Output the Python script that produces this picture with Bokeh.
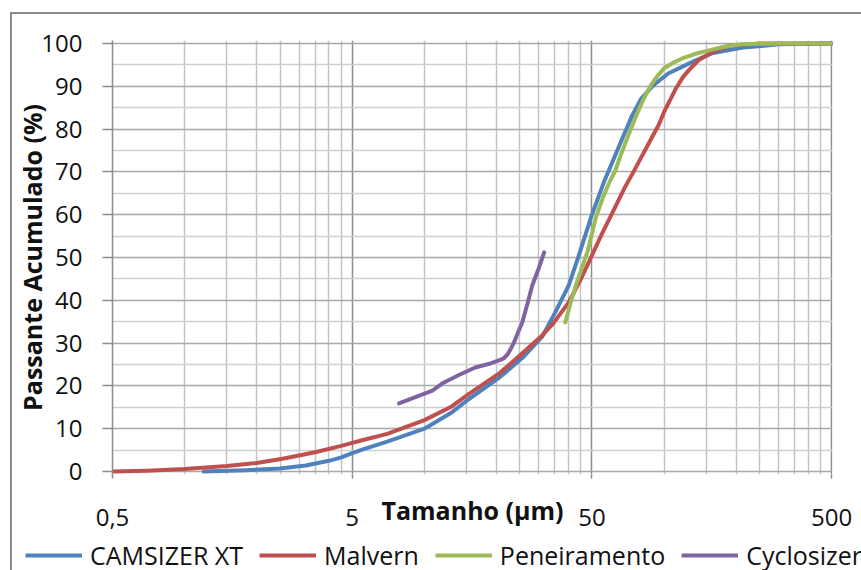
from bokeh.plotting import figure
from bokeh.models import FixedTicker, Range1d
from bokeh.layouts import column
from bokeh.embed import file_html
from bokeh.resources import INLINE

# ---- data ----
camsizer_x = [1.2, 1.8, 2.5, 3.2, 4.0, 4.5, 5.0, 5.5, 7.0, 10, 13, 15.4, 20.6, 25.6, 31, 35, 40,
              43.5, 50, 56, 60, 66, 73.6, 80, 90, 104, 130, 158, 210, 300, 500]
camsizer_y = [0, 0.3, 0.7, 1.4, 2.5, 3.3, 4.3, 5.1, 7.0, 10.0, 13.8, 17.0, 22.0, 26.5, 31.5, 37.0,
              43.5, 49.5, 60.0, 67.5, 71.5, 77.0, 83.2, 87.0, 90.2, 93.0, 95.6, 97.7, 99.0, 99.8, 100]

malvern_x = [0.5, 0.7, 1.0, 1.5, 2.0, 2.56, 3.5, 4.5, 5.0, 5.5, 7.0, 10, 13, 15.4, 20.6, 25.6, 31,
             34.5, 40, 45, 50, 55, 60.7, 68, 75, 85, 95, 100, 112, 120, 128, 140, 158, 187, 250, 500]
malvern_y = [0, 0.2, 0.6, 1.3, 2.0, 3.0, 4.5, 6.0, 6.7, 7.3, 8.8, 12.0, 15.2, 18.2, 23.0, 27.6, 31.8,
             34.6, 39.5, 45.0, 50.5, 55.5, 60.3, 66.0, 70.3, 76.0, 81.0, 84.0, 89.5, 92.2, 94.0, 96.2,
             97.9, 99.5, 100, 100]

peneiramento_x = [38.7, 41, 43.5, 48, 52, 56, 59.6, 62.6, 66, 72, 77, 82, 88, 94, 100, 110, 119,
                  135, 154, 180, 210, 300, 500]
peneiramento_y = [34.8, 40.0, 44.6, 51.5, 59.5, 64.5, 68.0, 70.3, 74.0, 79.5, 83.5, 87.0, 90.2, 92.5,
                  94.2, 95.6, 96.5, 97.6, 98.4, 99.3, 99.8, 100, 100]

cyclosizer_x = [7.84, 10.8, 11.9, 14, 16.3, 19, 20.6, 21.5, 22.3, 23, 23.8, 24.5, 25.6, 27, 28.2,
                30, 31.6]
cyclosizer_y = [15.9, 18.9, 20.6, 22.6, 24.3, 25.3, 26.0, 26.5, 27.5, 28.8, 30.5, 32.3, 34.8, 39.5,
                43.5, 47.5, 51.2]

series_names = ["CAMSIZER XT", "Malvern", "Peneiramento", "Cyclosizer"]
series_colors = ["#4F81BD", "#C0504D", "#9BBB59", "#8064A2"]

x_tick_values = [0.5, 5, 50, 500]
x_tick_labels = ["0,5", "5", "50", "500"]
y_tick_values = [0, 10, 20, 30, 40, 50, 60, 70, 80, 90, 100]

x_title = "Tamanho (µm)"
y_title = "Passante Acumulado (%)"

FONT = "Open Sans"

# ---- main chart ----
p = figure(width=849, height=526, x_axis_type="log",
           x_range=Range1d(0.5, 504), y_range=Range1d(-0.7, 100.7),
           output_backend="svg", toolbar_location=None,
           min_border_left=98, min_border_right=29, min_border_top=26, min_border_bottom=66)
p.outline_line_color = None
p.background_fill_color = "white"
p.border_fill_color = "white"

minor_x = [0.5 * k * 10 ** n for n in range(0, 3) for k in range(2, 10)]
p.xaxis.ticker = FixedTicker(ticks=x_tick_values, minor_ticks=minor_x)
p.xaxis.major_label_overrides = {v: s for v, s in zip(x_tick_values, x_tick_labels)}
p.yaxis.ticker = FixedTicker(ticks=y_tick_values, minor_ticks=[v + 5 for v in y_tick_values[:-1]])

for ax in (p.xaxis, p.yaxis):
    ax.major_label_text_font = FONT
    ax.major_label_text_font_size = "24px"
    ax.major_label_text_color = "#111111"
    ax.minor_tick_out = 0
    ax.minor_tick_in = 0
    ax.major_tick_in = 0
    ax.major_tick_line_color = "#8c8c8c"
    ax.major_tick_line_width = 1.5
    ax.axis_label_text_font = FONT
    ax.axis_label_text_font_style = "bold"
    ax.axis_label_text_font_size = "25px"
    ax.axis_label_text_color = "#111111"

p.xaxis.axis_label = x_title
p.yaxis.axis_label = y_title

p.xaxis.axis_line_color = None
p.xaxis.major_tick_out = 4
p.xaxis.major_label_standoff = 30
p.xaxis.axis_label_standoff = -36
p.yaxis.axis_line_color = "#8c8c8c"
p.yaxis.axis_line_width = 1.5
p.yaxis.major_tick_out = 10
p.yaxis.major_label_standoff = 20
p.yaxis.axis_label_standoff = -11

p.xgrid.grid_line_color = "#8c8c8c"
p.xgrid.grid_line_width = 1.5
p.xgrid.minor_grid_line_color = "#c4c4c4"
p.xgrid.minor_grid_line_width = 1.5
p.ygrid.grid_line_color = "#a8a8a8"
p.ygrid.grid_line_width = 1.5
p.ygrid.minor_grid_line_color = "#cfcfcf"
p.ygrid.minor_grid_line_width = 1.5

all_x = [camsizer_x, malvern_x, peneiramento_x, cyclosizer_x]
all_y = [camsizer_y, malvern_y, peneiramento_y, cyclosizer_y]
for xs, ys, col in zip(all_x, all_y, series_colors):
    p.line(xs, ys, line_color=col, line_width=4, line_join="round", line_cap="round")

# ---- legend strip: same series, ranges chosen so the lines fall outside its (empty) frame ----
leg = figure(width=849, height=30, x_range=Range1d(-2, -1), y_range=Range1d(-2, -1),
             output_backend="svg", toolbar_location=None,
             x_axis_location=None, y_axis_location=None,
             min_border_left=0, min_border_right=0, min_border_top=0, min_border_bottom=0)
leg.outline_line_color = None
leg.xgrid.visible = False
leg.ygrid.visible = False
for plot in (p, leg):
    if "frame_align" in plot.properties():
        plot.frame_align = False
for xs, ys, name, col in zip(all_x, all_y, series_names, series_colors):
    leg.line(xs, ys, line_color=col, line_width=4, legend_label=name)
leg.legend.orientation = "horizontal"
leg.legend.location = (13, -2)
leg.legend.label_text_font = FONT
leg.legend.label_text_font_size = "25px"
leg.legend.label_text_color = "#111111"
leg.legend.glyph_width = 57
leg.legend.label_standoff = 8
leg.legend.spacing = 16
leg.legend.padding = 0
leg.legend.margin = 0
leg.legend.border_line_color = None
leg.legend.background_fill_alpha = 0

layout = column(p, leg, spacing=0,
                styles={"margin-left": "10px", "margin-top": "12px",
                        "border-left": "2px solid #8c8c8c", "border-top": "2px solid #8c8c8c"})

open("out.html", "w").write(file_html(layout, INLINE))
